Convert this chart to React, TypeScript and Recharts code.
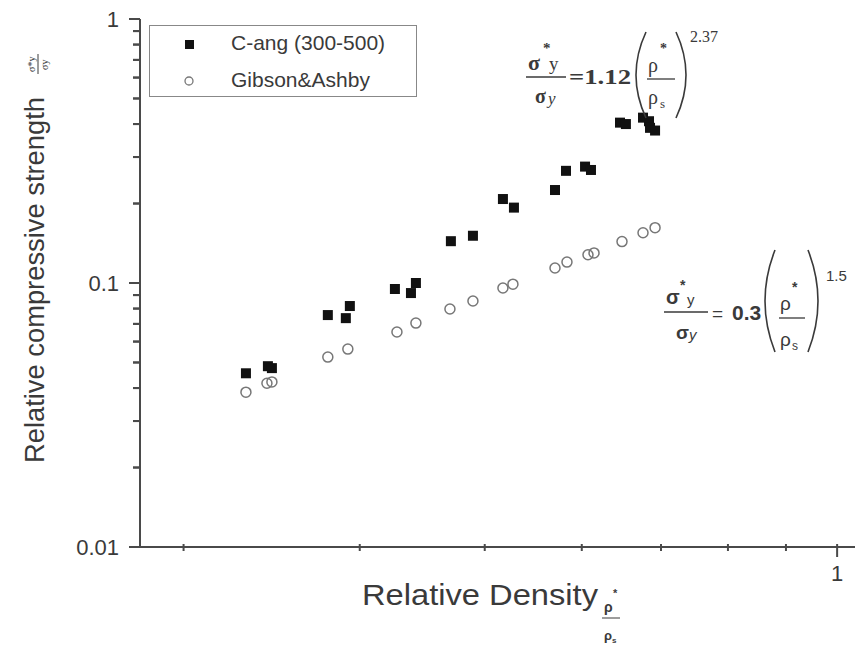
import { ScatterChart, Scatter, XAxis, YAxis, Legend } from 'recharts'

// values read off the reference (log-log plot)
const cAngDensity = [0.2565, 0.2698, 0.2723, 0.3097, 0.3228, 0.3258, 0.3614, 0.375, 0.3793, 0.4111, 0.4325, 0.4634, 0.4753, 0.5224, 0.5358, 0.5598, 0.5675, 0.6067, 0.615, 0.6397, 0.6486, 0.6501, 0.6577]
const cAngStrength = [0.0455, 0.0484, 0.0476, 0.0756, 0.0736, 0.0818, 0.0949, 0.0916, 0.1, 0.144, 0.151, 0.208, 0.193, 0.225, 0.266, 0.276, 0.268, 0.405, 0.4, 0.423, 0.41, 0.387, 0.378]

const gibsonDensity = [0.2565, 0.2692, 0.2723, 0.3097, 0.3243, 0.3631, 0.3793, 0.4102, 0.4325, 0.4634, 0.4742, 0.5224, 0.537, 0.5636, 0.5715, 0.6095, 0.6397, 0.6577]
const gibsonStrength = [0.0386, 0.0417, 0.0422, 0.0524, 0.0562, 0.0652, 0.0705, 0.0797, 0.0855, 0.0957, 0.099, 0.114, 0.12, 0.128, 0.13, 0.1435, 0.155, 0.162]

const xTicks = [0.2222, 0.3333, 0.4444, 0.5556, 0.6667, 0.7778, 0.8889, 1]
const xLabels = [1]
const yTicks = [0.01, 0.02, 0.03, 0.04, 0.05, 0.06, 0.07, 0.08, 0.09, 0.1, 0.2, 0.3, 0.4, 0.5, 0.6, 0.7, 0.8, 0.9, 1]
const yLabels = [0.01, 0.1, 1]

const cAng = cAngDensity.map((x, i) => ({ x, y: cAngStrength[i] }))
const gibson = gibsonDensity.map((x, i) => ({ x, y: gibsonStrength[i] }))

const AXIS = '#4a4a4a'
const TEXT = '#3a3a3a'
const SANS = '"Liberation Sans", Arial, sans-serif'
const SERIF = '"Liberation Serif", "Times New Roman", serif'
const Y_TICK = 7

const XTick = (props: any) => {
  const { x, y, payload } = props
  const major = xLabels.includes(payload.value)
  return (
    <g>
      <line x1={x} x2={x} y1={y - 3} y2={y + (major ? 10 : 4)} stroke={AXIS} strokeWidth={2} />
      {major && (
        <text x={x} y={y + 34} textAnchor="middle" fontSize={22} fill={TEXT} fontFamily={SANS}>
          {payload.value}
        </text>
      )}
    </g>
  )
}

// x here is already Y_TICK left of the axis line (built-in tick line draws the short mark)
const YTick = (props: any) => {
  const { x, y, payload } = props
  const major = yLabels.includes(payload.value)
  const axisX = x + Y_TICK
  return (
    <g>
      <line x1={axisX - (major ? 11 : Y_TICK)} x2={axisX} y1={y} y2={y} stroke={AXIS} strokeWidth={2} />
      {major && (
        <text x={axisX - 21} y={y + 8} textAnchor="end" fontSize={22} fill={TEXT} fontFamily={SANS}>
          {payload.value}
        </text>
      )}
    </g>
  )
}

const Square = (props: any) => <rect x={props.cx - 5} y={props.cy - 5} width={10} height={10} fill="#111" />
const Ring = (props: any) => <circle cx={props.cx} cy={props.cy} r={5} fill="none" stroke="#777" strokeWidth={1.5} />

const LegendBox = () => (
  <div style={{ width: 268, height: 72, border: '1.5px solid #888', boxSizing: 'border-box', fontFamily: SANS, fontSize: 21, color: TEXT, position: 'relative' }}>
    <svg width={20} height={72} style={{ position: 'absolute', left: 30, top: 0 }}>
      <rect x={5} y={14} width={9} height={9} fill="#111" />
      <circle cx={9} cy={55} r={4} fill="none" stroke="#777" strokeWidth={1.3} />
    </svg>
    <div style={{ position: 'absolute', left: 81, top: 5 }}>C-ang (300-500)</div>
    <div style={{ position: 'absolute', left: 81, top: 42 }}>Gibson&amp;Ashby</div>
  </div>
)

const paren = (x: number, top: number, bottom: number, dir: number) => {
  const mid = (top + bottom) / 2
  return <path d={`M${x},${top} Q${x - dir * 20},${mid} ${x},${bottom}`} fill="none" stroke={TEXT} strokeWidth={1.6} />
}

const Annotations = () => (
  <svg width={858} height={657} style={{ position: 'absolute', left: 0, top: 0, pointerEvents: 'none' }}>
    {/* y axis title */}
    <text transform="translate(44,280) rotate(-90)" textAnchor="middle" fontSize={27} fill={TEXT} fontFamily={SANS} textLength={366} lengthAdjust="spacingAndGlyphs">
      Relative compressive strength
    </text>
    <g transform="translate(38,64) rotate(-90)" fontFamily={SERIF} fill={TEXT}>
      <text x={-8} y={-3} fontSize={10}>σ*y</text>
      <line x1={-10} x2={10} y1={0} y2={0} stroke={TEXT} strokeWidth={1} />
      <text x={-6} y={10} fontSize={10}>σy</text>
    </g>

    {/* x axis title */}
    <text x={362} y={605} fontSize={30} fill={TEXT} fontFamily={SANS} textLength={236} lengthAdjust="spacingAndGlyphs">
      Relative Density
    </text>
    <g fontFamily={SANS} fill={TEXT} fontWeight="bold">
      <text x={604} y={612} fontSize={14}>ρ</text>
      <text x={613} y={597} fontSize={11}>*</text>
      <line x1={602} x2={620} y1={618} y2={618} stroke={TEXT} strokeWidth={1} />
      <text x={604} y={640} fontSize={13}>ρ</text>
      <text x={612} y={643} fontSize={8}>s</text>
    </g>

    {/* C-ang fit */}
    <g fontFamily={SERIF} fill={TEXT} fontWeight="bold">
      <text x={528} y={70} fontSize={22}>σ</text>
      <text x={543} y={53} fontSize={15}>*</text>
      <text x={549} y={70} fontSize={19} fontWeight="normal">y</text>
      <line x1={526} x2={566} y1={77} y2={77} stroke={TEXT} strokeWidth={1.3} />
      <text x={535} y={103} fontSize={20}>σ</text>
      <text x={548} y={104} fontSize={17} fontStyle="italic" fontWeight="normal">y</text>
      <text x={569} y={84} fontSize={22} textLength={62} lengthAdjust="spacingAndGlyphs">=1.12</text>
      {paren(646, 32, 118, 1)}
      {paren(676, 32, 118, -1)}
      <text x={648} y={72} fontSize={20} fontWeight="normal">ρ</text>
      <text x={660} y={53} fontSize={14}>*</text>
      <line x1={647} x2={675} y1={79} y2={79} stroke={TEXT} strokeWidth={1.3} />
      <text x={648} y={104} fontSize={20} fontWeight="normal">ρ</text>
      <text x={660} y={108} fontSize={13} fontWeight="normal">s</text>
      <text x={690} y={42} fontSize={16} fontWeight="normal">2.37</text>
    </g>

    {/* Gibson & Ashby fit */}
    <g fontFamily={SANS} fill={TEXT} fontWeight="bold">
      <text x={666} y={304} fontSize={20}>σ</text>
      <text x={680} y={290} fontSize={14}>*</text>
      <text x={687} y={305} fontSize={15} fontWeight="normal">y</text>
      <line x1={664} x2={708} y1={312} y2={312} stroke={TEXT} strokeWidth={1.3} />
      <text x={676} y={339} fontSize={19}>σ</text>
      <text x={689} y={340} fontSize={15} fontStyle="italic" fontWeight="normal">y</text>
      <text x={712} y={320} fontSize={19} fontWeight="normal">=</text>
      <text x={732} y={320} fontSize={21}>0.3</text>
      {paren(775, 250, 352, 1)}
      {paren(808, 250, 352, -1)}
      <text x={780} y={310} fontSize={19} fontWeight="normal">ρ</text>
      <text x={792} y={292} fontSize={14}>*</text>
      <line x1={779} x2={805} y1={318} y2={318} stroke={TEXT} strokeWidth={1.3} />
      <text x={780} y={346} fontSize={19} fontWeight="normal">ρ</text>
      <text x={792} y={350} fontSize={12} fontWeight="normal">s</text>
      <text x={826} y={281} fontSize={15} fontWeight="normal">1.5</text>
    </g>
  </svg>
)

export default function App() {
  return (
    <div style={{ position: 'relative', width: 858, height: 657, background: '#fff' }}>
      <style>{`body{margin:0}`}</style>
      <ScatterChart width={858} height={657} margin={{ top: 19, right: 3, left: 0, bottom: 0 }}>
        <XAxis
          type="number"
          dataKey="x"
          scale="log"
          domain={[0.201, 1.042]}
          allowDataOverflow
          ticks={xTicks}
          interval={0}
          height={110}
          tickSize={0}
          tickMargin={0}
          axisLine={{ stroke: AXIS, strokeWidth: 2 }}
          tick={<XTick />}
        />
        <YAxis
          type="number"
          dataKey="y"
          scale="log"
          domain={[0.01, 1]}
          allowDataOverflow
          ticks={yTicks}
          interval={0}
          width={140}
          tickSize={Y_TICK}
          tickMargin={0}
          tickLine={{ stroke: AXIS, strokeWidth: 2 }}
          axisLine={{ stroke: AXIS, strokeWidth: 2 }}
          tick={<YTick />}
        />
        <Legend
          layout="horizontal"
          verticalAlign="middle"
          align="center"
          content={<LegendBox />}
          wrapperStyle={{ left: 149, top: 25, width: 268 }}
        />
        <Scatter name="C-ang (300-500)" data={cAng} shape={<Square />} isAnimationActive={false} />
        <Scatter name="Gibson&Ashby" data={gibson} shape={<Ring />} isAnimationActive={false} />
      </ScatterChart>
      <Annotations />
    </div>
  )
}
